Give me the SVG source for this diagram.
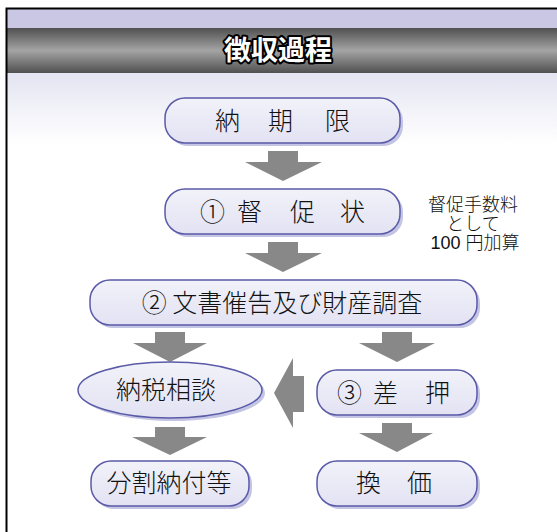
<svg xmlns="http://www.w3.org/2000/svg" width="557" height="532" viewBox="0 0 557 532">
<defs>
<linearGradient id="hdr" x1="0" y1="0" x2="0" y2="1">
<stop offset="0" stop-color="#505050"/>
<stop offset="0.5" stop-color="#a4a4a4"/>
<stop offset="1" stop-color="#505050"/>
</linearGradient>
<linearGradient id="bg" x1="0" y1="0" x2="0" y2="1">
<stop offset="0" stop-color="#e4e4f2"/>
<stop offset="1" stop-color="#ffffff"/>
</linearGradient>
<linearGradient id="box" x1="0" y1="0" x2="0" y2="1">
<stop offset="0" stop-color="#f2f2fa"/>
<stop offset="1" stop-color="#e2e2f3"/>
</linearGradient>
<style>
.nb{fill:url(#box);stroke:#5a5aa8;stroke-width:1.5}
.sh{fill:#c4c4e4}
.t{font-family:"Noto Sans CJK JP","Noto Sans",sans-serif;font-size:25px;font-weight:300;fill:#111}
.a{font-family:"Liberation Sans","Noto Sans CJK JP",sans-serif;font-size:18px;font-weight:300;fill:#111;text-anchor:middle}
.ar{fill:#888888}
</style>
</defs>
<rect x="0" y="0" width="557" height="532" fill="#ffffff"/>
<rect x="7" y="73" width="550" height="70" fill="url(#bg)"/>
<rect x="7" y="9" width="550" height="19" fill="#c9c7e3"/>
<rect x="7" y="28" width="550" height="45" fill="url(#hdr)"/>
<path d="M6.5 532 V8.5 H557" fill="none" stroke="#000" stroke-width="2"/>
<text x="278" y="60" text-anchor="middle" font-family="Noto Sans CJK JP,sans-serif" font-weight="bold" font-size="27" fill="#fff" stroke="#000" stroke-width="4" stroke-linejoin="round" paint-order="stroke">徴収過程</text>

<g id="connectors">
<polygon class="ar" points="268,151 298,151 298,162 322,162 283,181 245,162 268,162"/>
<polygon class="ar" points="268,242 298,242 298,253 322,253 283,272 245,253 268,253"/>
<polygon class="ar" points="155,332 185,332 185,343 207,343 170,362 133,343 155,343"/>
<polygon class="ar" points="382,332 412,332 412,343 435,343 397,362 359,343 382,343"/>
<polygon class="ar" points="304,376 304,412 293,412 293,428 274,393 293,358 293,376"/>
<polygon class="ar" points="155,427 185,427 185,437 207,437 170,455 132,437 155,437"/>
<polygon class="ar" points="382,423 412,423 412,433 433,433 397,452 359,433 382,433"/>
</g>

<g id="n1">
<rect class="sh" x="168" y="101" width="235" height="45" rx="20"/>
<rect class="nb" x="165" y="98" width="235" height="45" rx="20"/>
<text class="t" x="215 268 325" y="130">納期限</text>
</g>
<g id="n2">
<rect class="sh" x="168" y="192" width="235" height="45" rx="20"/>
<rect class="nb" x="165" y="189" width="235" height="45" rx="20"/>
<text class="t" x="200 237 290 340" y="221">①督促状</text>
</g>
<g id="note">
<text class="a"><tspan x="473" y="211">督促手数料</tspan><tspan x="473" y="230">として</tspan><tspan x="475" y="249">100 円加算</tspan></text>
</g>
<g id="n3">
<rect class="sh" x="93" y="283" width="387" height="45" rx="20"/>
<rect class="nb" x="90" y="280" width="387" height="45" rx="20"/>
<text class="t" x="282" y="312" text-anchor="middle" font-size="26">② 文書催告及び財産調査</text>
</g>
<g id="n4">
<ellipse class="sh" cx="173" cy="393" rx="92" ry="28"/>
<ellipse class="nb" cx="170" cy="390" rx="92" ry="28"/>
<text class="t" x="166" y="399" text-anchor="middle" font-size="26">納税相談</text>
</g>
<g id="n5">
<rect class="sh" x="320" y="373" width="160" height="45" rx="20"/>
<rect class="nb" x="317" y="370" width="160" height="45" rx="20"/>
<text class="t" x="337 373 425" y="402">③差押</text>
</g>
<g id="n6">
<rect class="sh" x="94" y="464" width="158" height="45" rx="20"/>
<rect class="nb" x="91" y="461" width="158" height="45" rx="20"/>
<text class="t" x="169" y="492" text-anchor="middle" font-size="26">分割納付等</text>
</g>
<g id="n7">
<rect class="sh" x="320" y="464" width="160" height="45" rx="20"/>
<rect class="nb" x="317" y="461" width="160" height="45" rx="20"/>
<text class="t" x="356 407" y="492">換価</text>
</g>
</svg>
